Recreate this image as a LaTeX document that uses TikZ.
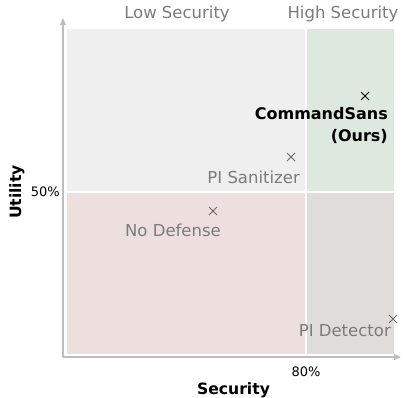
\documentclass[tikz,border=0pt]{standalone}
\usepackage{fontspec}
\setmainfont{DejaVu Sans}
\usetikzlibrary{arrows.meta}
\definecolor{lowbg}{HTML}{EFEFEF}
\definecolor{highbg}{HTML}{DDE9DF}
\definecolor{badbg}{HTML}{EEDFDF}
\definecolor{detbg}{HTML}{E0DCDC}
\definecolor{axisgray}{HTML}{BDBDBD}
\definecolor{labgray}{HTML}{7B7B7B}
\definecolor{crossgray}{HTML}{6A6A6A}
\begin{document}
\begin{tikzpicture}[x=1pt,y=-1pt,
  axisline/.style={draw=axisgray,line width=1.2pt,-{Triangle[length=7pt,width=6pt]}},
  cross/.style={draw=#1,line width=0.9pt},
  grouplab/.style={text=labgray,font=\fontsize{16.5}{20}\selectfont,inner sep=0pt},
  ptlab/.style={text=labgray,font=\fontsize{16.5}{20}\selectfont,inner sep=0pt},
  oursl/.style={text=black,font=\bfseries\fontsize{16}{22}\selectfont,inner sep=0pt,align=right},
  ticklab/.style={text=black,font=\fontsize{13}{15}\selectfont,inner sep=0pt},
  axlab/.style={text=black,font=\bfseries\fontsize{15.6}{19}\selectfont,inner sep=0pt}]
\useasboundingbox (0,0) rectangle (406,397);
% quadrant backgrounds
\fill[lowbg] (67,29) rectangle (305,191);
\fill[highbg] (306.5,29) rectangle (394,191);
\fill[badbg] (67,192.5) rectangle (305,354);
\fill[detbg] (306.5,192.5) rectangle (394,354);
% axes
\coordinate (origin) at (63,357);
\coordinate (ytip) at (63,18);
\coordinate (xtip) at (401,357);
\draw[axisline] (origin) -- (ytip);
\draw[axisline] (origin) -- (xtip);
% group headings
\node[grouplab] (low) at (177,14) {Low Security};
\node[grouplab] (high) at (343,14) {High Security};
% axis ticks and titles
\node[ticklab,anchor=east] (t50) at (60,192) {50\%};
\node[ticklab] (t80) at (306,372) {80\%};
\node[axlab,rotate=90] (ylab) at (17,192) {Utility};
\node[axlab] (xlab) at (233.5,390) {Security};
% data points
\coordinate (ours) at (365,96);
\coordinate (sani) at (291,157);
\coordinate (nodef) at (213,211);
\coordinate (det) at (393,319);
\draw[cross=black] (ours) ++(-4,-4) -- ++(8,8) (ours) ++(-4,4) -- ++(8,-8);
\draw[cross=crossgray] (sani) ++(-4,-4) -- ++(8,8) (sani) ++(-4,4) -- ++(8,-8);
\draw[cross=crossgray] (nodef) ++(-4,-4) -- ++(8,8) (nodef) ++(-4,4) -- ++(8,-8);
\draw[cross=crossgray] (det) ++(-4,-4) -- ++(8,8) (det) ++(-4,4) -- ++(8,-8);
% point labels
\node[oursl,anchor=north east] (oursl) at (388,107) {CommandSans\\(Ours)};
\node[ptlab,anchor=east] (sanil) at (300,177) {PI Sanitizer};
\node[ptlab] (nodefl) at (173,230) {No Defense};
\node[ptlab,anchor=east] (detl) at (391,331) {PI Detector};
\end{tikzpicture}
\end{document}
